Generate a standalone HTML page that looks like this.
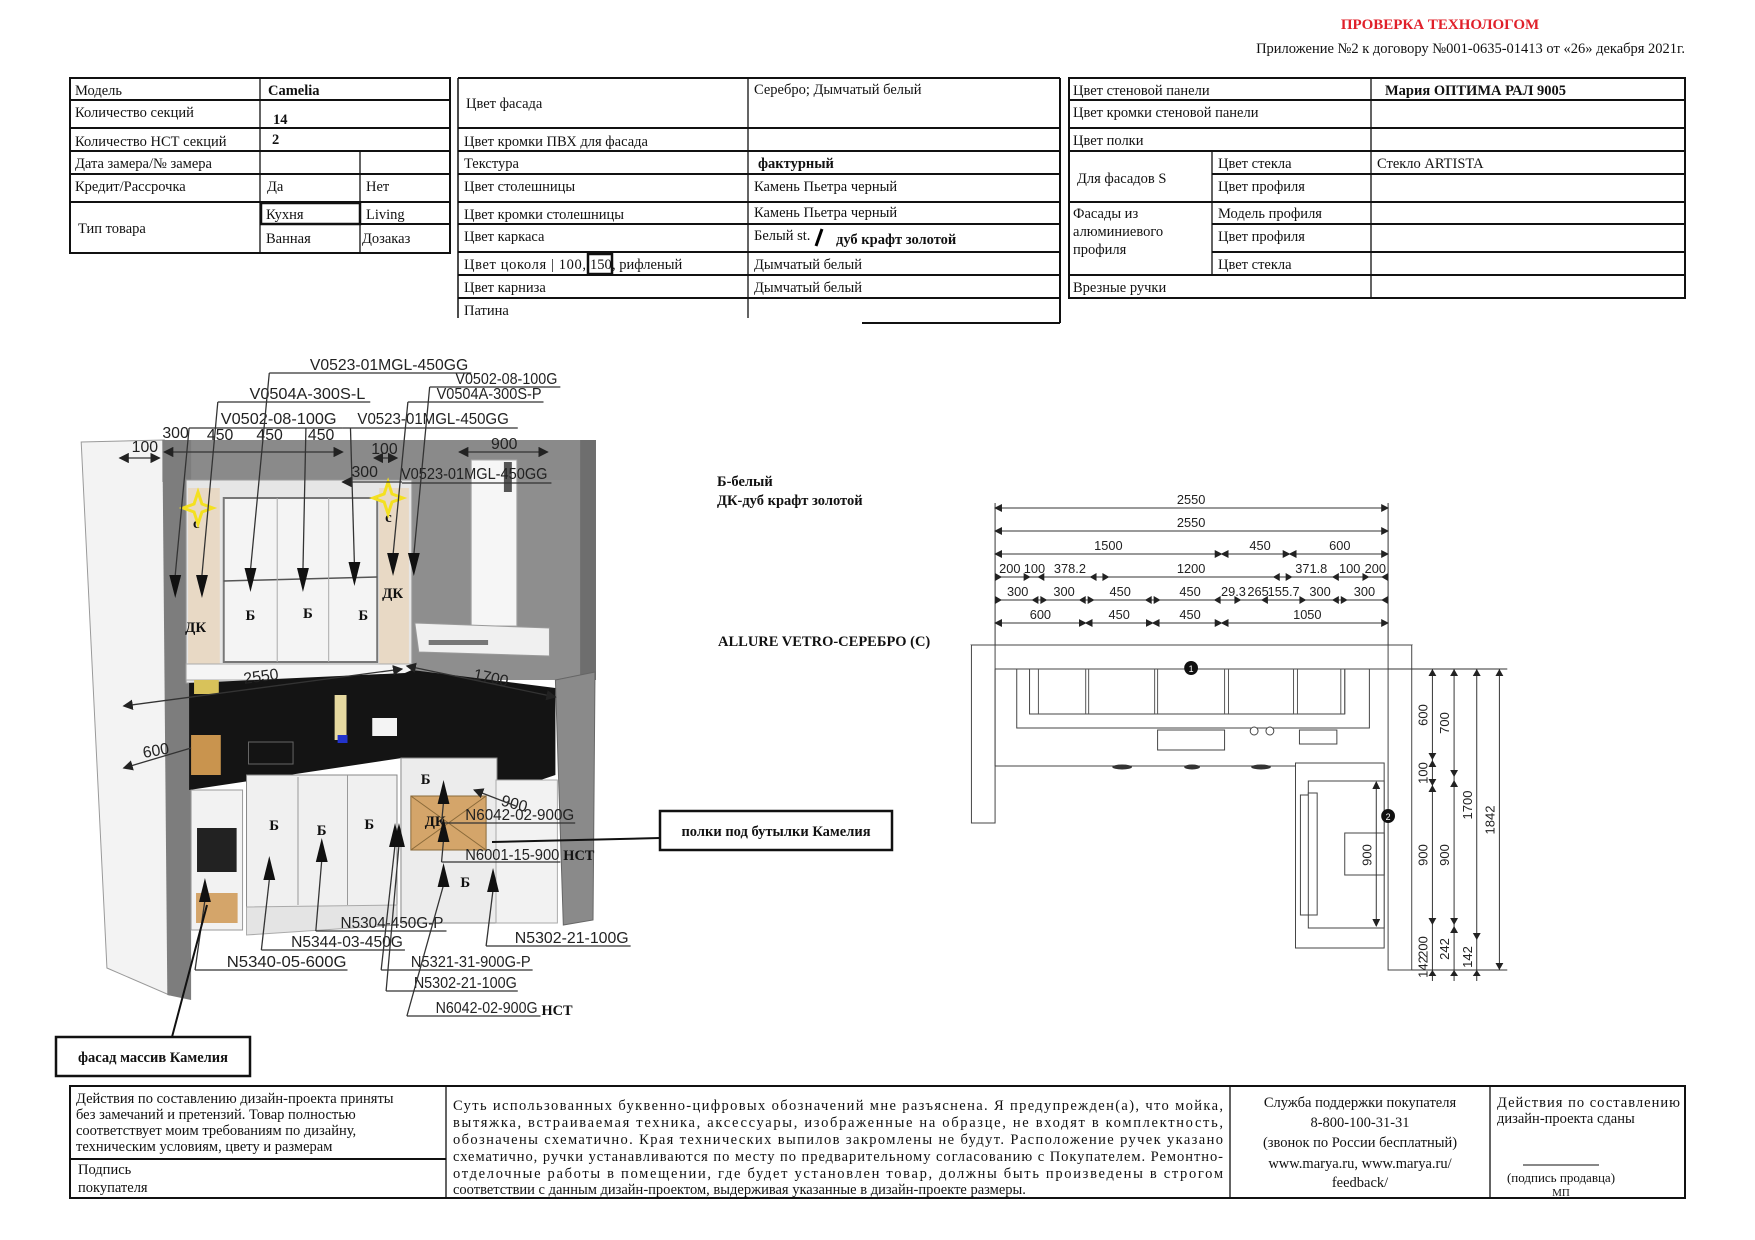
<!DOCTYPE html>
<html><head><meta charset="utf-8"><style>
html,body{margin:0;padding:0;background:#fff;}
svg{display:block}
.t{font-family:"Liberation Serif",serif;font-size:14.5px;fill:#111}
.b{font-weight:bold}
.s{font-family:"Liberation Sans",sans-serif;fill:#222}
.d{font-family:"Liberation Sans",sans-serif;font-size:13px;fill:#222}
</style></head><body>
<svg width="1755" height="1240" viewBox="0 0 1755 1240" xmlns="http://www.w3.org/2000/svg">
<defs>
<marker id="ar" markerWidth="8" markerHeight="8" refX="7" refY="4" orient="auto"><path d="M0,0 L8,4 L0,8 z" fill="#222"/></marker>
<marker id="al" markerWidth="8" markerHeight="8" refX="1" refY="4" orient="auto"><path d="M8,0 L0,4 L8,8 z" fill="#222"/></marker>
</defs>
<rect width="1755" height="1240" fill="#fff"/>
<text x="1440" y="29" text-anchor="middle" font-family="Liberation Serif,serif" font-size="15" font-weight="bold" fill="#e0202a">ПРОВЕРКА ТЕХНОЛОГОМ</text>
<text x="1685" y="53" text-anchor="end" class="t" font-size="14">Приложение №2 к договору №001-0635-01413 от «26» декабря 2021г.</text>

<!-- LEFT TABLE -->
<g stroke="#111" fill="none">
<rect x="70" y="78" width="380" height="175" stroke-width="2"/>
<g stroke-width="2">
<line x1="70" y1="100" x2="450" y2="100"/><line x1="70" y1="128" x2="450" y2="128"/>
<line x1="70" y1="151" x2="450" y2="151"/><line x1="70" y1="174" x2="450" y2="174"/>
<line x1="70" y1="202" x2="450" y2="202"/><line x1="260" y1="224" x2="450" y2="224"/>
</g>
<line x1="260" y1="78" x2="260" y2="253" stroke-width="1.3"/>
<line x1="360" y1="151" x2="360" y2="253" stroke-width="1.3"/>
<rect x="261" y="203" width="99" height="21" stroke-width="2.5"/>
</g>
<text class="t" x="75" y="95">Модель</text><text class="t b" x="268" y="95">Camelia</text>
<text class="t" x="75" y="117">Количество секций</text><text class="t b" x="273" y="124">14</text>
<text class="t" x="75" y="146">Количество НСТ секций</text><text class="t b" x="272" y="144">2</text>
<text class="t" x="75" y="168">Дата замера/№ замера</text>
<text class="t" x="75" y="191">Кредит/Рассрочка</text><text class="t" x="267" y="191">Да</text><text class="t" x="366" y="191">Нет</text>
<text class="t" x="78" y="233">Тип товара</text><text class="t" x="266" y="219">Кухня</text><text class="t" x="366" y="219">Living</text>
<text class="t" x="266" y="243">Ванная</text><text class="t" x="362" y="243">Дозаказ</text>

<!-- MIDDLE TABLE -->
<g stroke="#111" fill="none">
<line x1="458" y1="78" x2="1060" y2="78" stroke-width="2"/>
<line x1="458" y1="78" x2="458" y2="318" stroke-width="1.5"/>
<line x1="1060" y1="78" x2="1060" y2="323" stroke-width="2"/>
<line x1="748" y1="78" x2="748" y2="318" stroke-width="1.3"/>
<g stroke-width="2">
<line x1="458" y1="128" x2="1060" y2="128"/><line x1="458" y1="151" x2="1060" y2="151"/>
<line x1="458" y1="174" x2="1060" y2="174"/><line x1="458" y1="202" x2="1060" y2="202"/>
<line x1="458" y1="224" x2="1060" y2="224"/><line x1="458" y1="252" x2="1060" y2="252"/>
<line x1="458" y1="275" x2="1060" y2="275"/><line x1="458" y1="298" x2="1060" y2="298"/>
<line x1="862" y1="323" x2="1060" y2="323"/>
</g>
</g>
<text class="t" x="466" y="108">Цвет фасада</text><text class="t" x="754" y="94">Серебро; Дымчатый белый</text>
<text class="t" x="464" y="146">Цвет кромки ПВХ для фасада</text>
<text class="t" x="464" y="168">Текстура</text><text class="t b" x="758" y="168">фактурный</text>
<text class="t" x="464" y="191">Цвет столешницы</text><text class="t" x="754" y="191">Камень Пьетра черный</text>
<text class="t" x="464" y="219">Цвет кромки столешницы</text><text class="t" x="754" y="217">Камень Пьетра черный</text>
<text class="t" x="464" y="241">Цвет каркаса</text><text class="t" x="754" y="240">Белый st.</text>
<line x1="816" y1="246" x2="822" y2="229" stroke="#000" stroke-width="3"/>
<text class="t b" x="836" y="244">дуб крафт золотой</text>
<text class="t" x="464" y="269" textLength="122" lengthAdjust="spacing">Цвет цоколя | 100,</text>
<text class="t" x="590" y="269">150</text>
<text class="t" x="612" y="269">, рифленый</text>
<rect x="588" y="254" width="24" height="20" fill="none" stroke="#111" stroke-width="2.5"/>
<text class="t" x="754" y="269">Дымчатый белый</text>
<text class="t" x="464" y="292">Цвет карниза</text><text class="t" x="754" y="292">Дымчатый белый</text>
<text class="t" x="464" y="315">Патина</text>

<!-- RIGHT TABLE -->
<g stroke="#111" fill="none">
<rect x="1069" y="78" width="616" height="220" stroke-width="2"/>
<g stroke-width="2">
<line x1="1069" y1="100" x2="1685" y2="100"/><line x1="1069" y1="128" x2="1685" y2="128"/>
<line x1="1069" y1="151" x2="1685" y2="151"/><line x1="1212" y1="174" x2="1685" y2="174"/>
<line x1="1069" y1="202" x2="1685" y2="202"/><line x1="1212" y1="224" x2="1685" y2="224"/>
<line x1="1212" y1="252" x2="1685" y2="252"/><line x1="1069" y1="275" x2="1685" y2="275"/>
</g>
<line x1="1371" y1="78" x2="1371" y2="298" stroke-width="1.3"/>
<line x1="1212" y1="151" x2="1212" y2="275" stroke-width="1.3"/>
</g>
<text class="t" x="1073" y="95">Цвет стеновой панели</text><text class="t b" x="1385" y="95">Мария ОПТИМА РАЛ 9005</text>
<text class="t" x="1073" y="117">Цвет кромки стеновой панели</text>
<text class="t" x="1073" y="145">Цвет полки</text>
<text class="t" x="1077" y="183">Для фасадов S</text>
<text class="t" x="1218" y="168">Цвет стекла</text><text class="t" x="1377" y="168">Стекло ARTISTA</text>
<text class="t" x="1218" y="191">Цвет профиля</text>
<text class="t" x="1073" y="218">Фасады из</text><text class="t" x="1073" y="236">алюминиевого</text><text class="t" x="1073" y="254">профиля</text>
<text class="t" x="1218" y="218">Модель профиля</text><text class="t" x="1218" y="241">Цвет профиля</text><text class="t" x="1218" y="269">Цвет стекла</text>
<text class="t" x="1073" y="292">Врезные ручки</text>

<text class="t b" x="717" y="486">Б-белый</text>
<text class="t b" x="717" y="505">ДК-дуб крафт золотой</text>
<text class="t b" x="718" y="646">ALLURE VETRO-СЕРЕБРО (С)</text>

<!-- KITCHEN 3D -->
<g transform="translate(1,0) scale(0.99,1)">
<g>
<polygon points="81,442 165,440 170,995 107,968" fill="#f3f3f3" stroke="#999"/>
<rect x="163" y="440" width="437" height="42" fill="#8a8a8a"/>
<polygon points="163,440 192,440 192,1000 168,995" fill="#7d7d7d"/>
<rect x="415" y="480" width="172" height="200" fill="#8e8e8e"/>
<rect x="585" y="440" width="16" height="240" fill="#6e6e6e"/>
<polygon points="560,680 600,672 598,920 568,925" fill="#8a8a8a" stroke="#666"/>
<rect x="187" y="480" width="228" height="203" fill="#e6e6e6" stroke="#999"/>
<rect x="189" y="488" width="32" height="190" fill="#e8d9c5"/>
<rect x="382" y="488" width="30" height="180" fill="#e8d9c5"/>
<rect x="225" y="498" width="155" height="164" fill="#f4f4f4" stroke="#777" stroke-width="2"/>
<line x1="225" y1="581" x2="380" y2="577" stroke="#555" stroke-width="1.5"/>
<line x1="279" y1="498" x2="279" y2="662" stroke="#aaa"/><line x1="331" y1="498" x2="331" y2="662" stroke="#aaa"/>
<rect x="187" y="664" width="228" height="16" fill="#f5f5f5" stroke="#aaa"/>
<rect x="475" y="460" width="46" height="166" fill="#f6f6f6" stroke="#aaa"/>
<rect x="508" y="462" width="8" height="30" fill="#555"/>
<polygon points="418,623 554,628 554,656 422,652" fill="#f0f0f0" stroke="#999"/>
<rect x="432" y="640" width="60" height="5" fill="#777"/>
<polygon points="190,683 408,673 415,670 560,688 560,775 515,790 405,758 190,790" fill="#141414"/>
<rect x="195" y="680" width="25" height="14" fill="#d8c25a"/>
<rect x="250" y="742" width="45" height="22" fill="none" stroke="#666"/>
<rect x="337" y="695" width="12" height="45" fill="#e6d9a0"/>
<rect x="340" y="735" width="10" height="8" fill="#2233cc"/>
<rect x="375" y="718" width="25" height="18" fill="#f4f4f4"/>
<rect x="192" y="735" width="30" height="40" fill="#c9944e"/>
<rect x="192" y="790" width="52" height="140" fill="#f2f2f2" stroke="#999"/>
<rect x="198" y="828" width="40" height="44" fill="#222"/>
<rect x="197" y="893" width="42" height="30" fill="#d4a56a"/>
<rect x="248" y="775" width="152" height="132" fill="#f0f0f0" stroke="#888"/>
<line x1="300" y1="777" x2="300" y2="905" stroke="#999"/><line x1="350" y1="775" x2="350" y2="905" stroke="#999"/>
<polygon points="248,907 400,905 400,925 248,935" fill="#e4e4e4" stroke="#aaa"/>
<rect x="404" y="758" width="97" height="165" fill="#ececec" stroke="#888"/>
<rect x="414" y="796" width="76" height="54" fill="#d4a56a" stroke="#8a6a3a"/>
<line x1="414" y1="796" x2="490" y2="850" stroke="#8a6a3a"/><line x1="490" y1="796" x2="414" y2="850" stroke="#8a6a3a"/>
<rect x="500" y="780" width="62" height="143" fill="#f2f2f2" stroke="#aaa"/>
</g>
<g font-family="Liberation Serif,serif" font-weight="bold" font-size="15" fill="#111">
<text x="247" y="620">Б</text><text x="305" y="618">Б</text><text x="361" y="620">Б</text>
<text x="186" y="632">ДК</text><text x="385" y="598">ДК</text>
<text x="194" y="528">с</text><text x="388" y="522">с</text>
<text x="271" y="830">Б</text><text x="319" y="835">Б</text><text x="367" y="829">Б</text>
<text x="424" y="784">Б</text><text x="428" y="826">ДК</text><text x="464" y="887">Б</text>
</g>
<g fill="none" stroke="#f4e020" stroke-width="3">
<path d="M199,492 L203,504 L214,508 L203,512 L199,524 L195,512 L184,508 L195,504 Z"/>
<path d="M391,482 L395,494 L406,498 L395,502 L391,514 L387,502 L376,498 L387,494 Z"/>
</g>
<g class="s" font-size="16">
<text x="312" y="370" textLength="160" lengthAdjust="spacingAndGlyphs">V0523-01MGL-450GG</text>
<text x="459" y="384" textLength="103" lengthAdjust="spacingAndGlyphs">V0502-08-100G</text>
<text x="251" y="399" textLength="117" lengthAdjust="spacingAndGlyphs">V0504A-300S-L</text>
<text x="440" y="399" textLength="106" lengthAdjust="spacingAndGlyphs">V0504A-300S-P</text>
<text x="222" y="424" textLength="117" lengthAdjust="spacingAndGlyphs">V0502-08-100G</text>
<text x="360" y="424" textLength="153" lengthAdjust="spacingAndGlyphs">V0523-01MGL-450GG</text>
<text x="404" y="479" textLength="148" lengthAdjust="spacingAndGlyphs">V0523-01MGL-450GG</text>
<text x="163" y="438">300</text><text x="208" y="440">450</text><text x="258" y="440">450</text><text x="310" y="440">450</text>
<text x="132" y="452">100</text><text x="374" y="454">100</text><text x="495" y="449">900</text><text x="354" y="477">300</text>
<text x="245" y="682" transform="rotate(-8 260 678)">2550</text><text x="477" y="682" transform="rotate(12 490 678)">1700</text>
<text x="143" y="756" transform="rotate(-10 155 750)">600</text>
</g>
<g stroke="#333" stroke-width="1.3" fill="none">
<line x1="271" y1="373" x2="475" y2="373"/><line x1="433" y1="387" x2="565" y2="387"/>
<line x1="219" y1="402" x2="373" y2="402"/><line x1="411" y1="402" x2="548" y2="402"/>
<line x1="190" y1="428" x2="345" y2="428"/><line x1="345" y1="428" x2="522" y2="428"/>
<line x1="405" y1="483" x2="556" y2="483"/>
<line x1="190" y1="428" x2="176" y2="575"/><line x1="219" y1="402" x2="203" y2="575"/>
<line x1="271" y1="373" x2="252" y2="570"/><line x1="308" y1="428" x2="305" y2="570"/>
<line x1="353" y1="428" x2="357" y2="565"/><line x1="411" y1="402" x2="396" y2="555"/>
<line x1="433" y1="387" x2="417" y2="555"/>
<line x1="165" y1="452" x2="345" y2="452" marker-start="url(#al)" marker-end="url(#ar)"/>
<line x1="120" y1="458" x2="160" y2="458" marker-start="url(#al)" marker-end="url(#ar)"/>
<line x1="377" y1="458" x2="400" y2="458" marker-start="url(#al)" marker-end="url(#ar)"/>
<line x1="463" y1="452" x2="552" y2="452" marker-start="url(#al)" marker-end="url(#ar)"/>
<line x1="345" y1="482" x2="405" y2="482" marker-start="url(#al)"/>
<line x1="124" y1="706" x2="405" y2="669" marker-start="url(#al)" marker-end="url(#ar)"/>
<line x1="410" y1="666" x2="560" y2="697" marker-start="url(#al)" marker-end="url(#ar)"/>
<line x1="124" y1="768" x2="192" y2="748" marker-start="url(#al)"/>
</g>
<g fill="#111">
<polygon points="170,575 182,575 176,598"/><polygon points="197,575 209,575 203,598"/>
<polygon points="246,568 258,568 252,592"/><polygon points="299,568 311,568 305,592"/>
<polygon points="351,562 363,562 357,586"/><polygon points="390,553 402,553 396,576"/>
<polygon points="411,553 423,553 417,576"/>
</g>
<g class="s" font-size="16">
<text x="469" y="820" textLength="110" lengthAdjust="spacingAndGlyphs">N6042-02-900G</text>
<text x="469" y="860" textLength="95" lengthAdjust="spacingAndGlyphs">N6001-15-900</text>
<text x="343" y="928" textLength="104" lengthAdjust="spacingAndGlyphs">N5304-450G-P</text>
<text x="519" y="943" textLength="115" lengthAdjust="spacingAndGlyphs">N5302-21-100G</text>
<text x="293" y="947" textLength="113" lengthAdjust="spacingAndGlyphs">N5344-03-450G</text>
<text x="228" y="967" textLength="121" lengthAdjust="spacingAndGlyphs">N5340-05-600G</text>
<text x="414" y="967" textLength="121" lengthAdjust="spacingAndGlyphs">N5321-31-900G-P</text>
<text x="417" y="988" textLength="104" lengthAdjust="spacingAndGlyphs">N5302-21-100G</text>
<text x="439" y="1013" textLength="103" lengthAdjust="spacingAndGlyphs">N6042-02-900G</text>
<text x="505" y="808" transform="rotate(15 515 804)">900</text>
</g>
<text class="t b" x="568" y="860">НСТ</text>
<text class="t b" x="546" y="1015">НСТ</text>
<g stroke="#333" stroke-width="1.3" fill="none">
<line x1="445" y1="823" x2="580" y2="823"/><line x1="445" y1="862" x2="565" y2="862"/>
<line x1="318" y1="931" x2="450" y2="931"/><line x1="490" y1="946" x2="636" y2="946"/>
<line x1="263" y1="950" x2="408" y2="950"/><line x1="196" y1="970" x2="350" y2="970"/>
<line x1="384" y1="970" x2="537" y2="970"/><line x1="389" y1="991" x2="522" y2="991"/>
<line x1="410" y1="1016" x2="545" y2="1016"/>
<line x1="196" y1="970" x2="206" y2="900"/><line x1="263" y1="950" x2="271" y2="880"/>
<line x1="318" y1="931" x2="324" y2="860"/><line x1="384" y1="970" x2="398" y2="845"/>
<line x1="389" y1="991" x2="402" y2="845"/><line x1="410" y1="1016" x2="447" y2="885"/>
<line x1="490" y1="946" x2="497" y2="890"/><line x1="445" y1="862" x2="447" y2="840"/>
<line x1="445" y1="823" x2="447" y2="802"/>
<line x1="478" y1="790" x2="520" y2="806" marker-start="url(#al)"/>
</g>
<g fill="#111">
<polygon points="200,902 212,902 206,878"/><polygon points="265,880 277,880 271,856"/>
<polygon points="318,862 330,862 324,838"/><polygon points="392,847 404,847 398,823"/>
<polygon points="396,847 408,847 402,823"/><polygon points="441,887 453,887 447,863"/>
<polygon points="491,892 503,892 497,868"/><polygon points="441,842 453,842 447,818"/>
<polygon points="441,804 453,804 447,780"/>
</g>
</g>
<rect x="660" y="811" width="232" height="39" fill="#fff" stroke="#111" stroke-width="2.5"/>
<text class="t b" x="776" y="836" text-anchor="middle">полки под бутылки Камелия</text>
<line x1="660" y1="838" x2="492" y2="842" stroke="#111" stroke-width="2"/>
<rect x="56" y="1037" width="194" height="39" fill="#fff" stroke="#111" stroke-width="2.5"/>
<text class="t b" x="153" y="1062" text-anchor="middle">фасад массив Камелия</text>
<line x1="172" y1="1037" x2="207" y2="905" stroke="#111" stroke-width="2"/>

<!-- PLAN -->
<g transform="translate(15,3) scale(0.985,1)">
<g stroke="#333" stroke-width="1" fill="none">
<line x1="995" y1="505" x2="1394" y2="505" marker-start="url(#al)" marker-end="url(#ar)"/>
<line x1="995" y1="528" x2="1394" y2="528" marker-start="url(#al)" marker-end="url(#ar)"/>
<line x1="995" y1="551" x2="1225" y2="551" marker-start="url(#al)" marker-end="url(#ar)"/>
<line x1="1225" y1="551" x2="1294" y2="551" marker-start="url(#al)" marker-end="url(#ar)"/>
<line x1="1294" y1="551" x2="1394" y2="551" marker-start="url(#al)" marker-end="url(#ar)"/>
<line x1="995" y1="574" x2="1394" y2="574"/>
<line x1="995" y1="597" x2="1394" y2="597"/>
<line x1="995" y1="620" x2="1087" y2="620" marker-start="url(#al)" marker-end="url(#ar)"/>
<line x1="1087" y1="620" x2="1155" y2="620" marker-start="url(#al)" marker-end="url(#ar)"/>
<line x1="1155" y1="620" x2="1225" y2="620" marker-start="url(#al)" marker-end="url(#ar)"/>
<line x1="1225" y1="620" x2="1394" y2="620" marker-start="url(#al)" marker-end="url(#ar)"/>
<line x1="995" y1="500" x2="995" y2="666"/><line x1="1394" y1="500" x2="1394" y2="666"/>
</g>
<g fill="#222">
<polygon points="1024,570 1024,578 1031,574"/><polygon points="1045,570 1045,578 1038,574"/>
<polygon points="1098,570 1098,578 1091,574"/><polygon points="1104,570 1104,578 1111,574"/>
<polygon points="1284,570 1284,578 1277,574"/><polygon points="1290,570 1290,578 1297,574"/>
<polygon points="1344,570 1344,578 1337,574"/><polygon points="1368,570 1368,578 1375,574"/>
<polygon points="995,570 995,578 1002,574"/><polygon points="1394,570 1394,578 1387,574"/>
<polygon points="995,593 995,601 1002,597"/><polygon points="1394,593 1394,601 1387,597"/>
<polygon points="1039,593 1039,601 1032,597"/><polygon points="1041,593 1041,601 1048,597"/>
<polygon points="1087,593 1087,601 1080,597"/><polygon points="1089,593 1089,601 1096,597"/>
<polygon points="1154,593 1154,601 1147,597"/><polygon points="1156,593 1156,601 1163,597"/>
<polygon points="1224,593 1224,601 1217,597"/><polygon points="1238,593 1238,601 1245,597"/>
<polygon points="1272,593 1272,601 1265,597"/><polygon points="1304,593 1304,601 1311,597"/>
<polygon points="1344,593 1344,601 1337,597"/><polygon points="1346,593 1346,601 1353,597"/>
</g>
<g class="d" text-anchor="middle">
<text x="1194" y="501">2550</text><text x="1194" y="524">2550</text>
<text x="1110" y="547">1500</text><text x="1264" y="547">450</text><text x="1345" y="547">600</text>
<text x="1010" y="570">200</text><text x="1035" y="570">100</text><text x="1071" y="570">378.2</text><text x="1194" y="570">1200</text><text x="1316" y="570">371.8</text><text x="1355" y="570">100</text><text x="1381" y="570">200</text>
<text x="1018" y="593">300</text><text x="1065" y="593">300</text><text x="1122" y="593">450</text><text x="1193" y="593">450</text><text x="1237" y="593">29.3</text><text x="1262" y="593">265</text><text x="1288" y="593">155.7</text><text x="1325" y="593">300</text><text x="1370" y="593">300</text>
<text x="1041" y="616">600</text><text x="1121" y="616">450</text><text x="1193" y="616">450</text><text x="1312" y="616">1050</text>
</g>
<g stroke="#444" stroke-width="1" fill="#fff">
<polygon points="971,642 1418,642 1394,666 995,666"/>
<rect x="971" y="642" width="24" height="178"/>
<rect x="1394" y="642" width="24" height="325"/>
<line x1="995" y1="666" x2="995" y2="763"/>
<rect x="1017" y="666" width="358" height="59"/>
<rect x="1030" y="666" width="320" height="45"/>
<line x1="995" y1="763" x2="1300" y2="763"/>
<rect x="1160" y="727" width="68" height="20"/>
<circle cx="1258" cy="728" r="4"/><circle cx="1274" cy="728" r="4"/>
<rect x="1304" y="727" width="38" height="14"/>
<rect x="1300" y="760" width="90" height="185"/>
<rect x="1313" y="778" width="77" height="147"/>
<rect x="1350" y="830" width="40" height="42"/>
<rect x="1305" y="792" width="10" height="120"/><rect x="1313" y="790" width="9" height="122"/>
</g>
<g stroke="#555" stroke-width="1">
<line x1="1039" y1="666" x2="1039" y2="711"/><line x1="1087" y1="666" x2="1087" y2="711"/><line x1="1090" y1="666" x2="1090" y2="711"/>
<line x1="1157" y1="666" x2="1157" y2="711"/><line x1="1160" y1="666" x2="1160" y2="711"/>
<line x1="1228" y1="666" x2="1228" y2="711"/><line x1="1232" y1="666" x2="1232" y2="711"/>
<line x1="1298" y1="666" x2="1298" y2="711"/><line x1="1302" y1="666" x2="1302" y2="711"/>
<line x1="1346" y1="666" x2="1346" y2="711"/><line x1="1350" y1="666" x2="1350" y2="711"/>
</g>
<g fill="#333"><ellipse cx="1124" cy="764" rx="10" ry="2.5"/><ellipse cx="1195" cy="764" rx="8" ry="2.5"/><ellipse cx="1265" cy="764" rx="10" ry="2.5"/></g>
<circle cx="1194" cy="665" r="7" fill="#111"/><text x="1194" y="669" text-anchor="middle" font-family="Liberation Sans" font-size="9" fill="#fff">1</text>
<circle cx="1394" cy="813" r="7" fill="#111"/><text x="1394" y="817" text-anchor="middle" font-family="Liberation Sans" font-size="9" fill="#fff">2</text>
<g stroke="#333" stroke-width="1" fill="none">
<line x1="1394" y1="666" x2="1515" y2="666"/><line x1="1418" y1="967" x2="1515" y2="967"/>
<line x1="1382" y1="779" x2="1382" y2="923" marker-start="url(#al)" marker-end="url(#ar)"/>
<line x1="1439" y1="666" x2="1439" y2="978"/><line x1="1461" y1="666" x2="1461" y2="978"/>
<line x1="1484" y1="666" x2="1484" y2="978"/><line x1="1507" y1="666" x2="1507" y2="967"/>
</g>
<g fill="#222">
<polygon points="1435,673 1443,673 1439,666"/><polygon points="1435,750 1443,750 1439,757"/><polygon points="1435,764 1443,764 1439,757"/><polygon points="1435,776 1443,776 1439,783"/><polygon points="1435,789 1443,789 1439,782"/><polygon points="1435,915 1443,915 1439,922"/><polygon points="1435,973 1443,973 1439,967"/>
<polygon points="1457,673 1465,673 1461,666"/><polygon points="1457,767 1465,767 1461,774"/><polygon points="1457,784 1465,784 1461,777"/><polygon points="1457,915 1465,915 1461,922"/><polygon points="1457,930 1465,930 1461,923"/><polygon points="1457,973 1465,973 1461,967"/>
<polygon points="1480,673 1488,673 1484,666"/><polygon points="1480,930 1488,930 1484,937"/><polygon points="1480,973 1488,973 1484,967"/>
<polygon points="1503,673 1511,673 1507,666"/><polygon points="1503,960 1511,960 1507,967"/>
</g>
<g class="d" text-anchor="middle">
<text transform="translate(1434,712) rotate(-90)">600</text>
<text transform="translate(1434,770) rotate(-90)">100</text>
<text transform="translate(1434,852) rotate(-90)">900</text>
<text transform="translate(1434,944) rotate(-90)">200</text>
<text transform="translate(1434,964) rotate(-90)">142</text>
<text transform="translate(1456,720) rotate(-90)">700</text>
<text transform="translate(1456,852) rotate(-90)">900</text>
<text transform="translate(1456,946) rotate(-90)">242</text>
<text transform="translate(1479,802) rotate(-90)">1700</text>
<text transform="translate(1479,954) rotate(-90)">142</text>
<text transform="translate(1502,817) rotate(-90)">1842</text>
<text transform="translate(1377,852) rotate(-90)">900</text>
</g>
</g>

<!-- BOTTOM TABLE -->
<g stroke="#111" fill="none">
<rect x="70" y="1086" width="1615" height="112" stroke-width="2"/>
<line x1="446" y1="1086" x2="446" y2="1198" stroke-width="1.3"/>
<line x1="1230" y1="1086" x2="1230" y2="1198" stroke-width="1.3"/>
<line x1="1490" y1="1086" x2="1490" y2="1198" stroke-width="1.3"/>
<line x1="70" y1="1159" x2="446" y2="1159" stroke-width="2"/>
<line x1="1523" y1="1165" x2="1599" y2="1165" stroke-width="1"/>
</g>
<g class="t" font-size="13">
<text x="76" y="1103">Действия по составлению дизайн-проекта приняты</text>
<text x="76" y="1119">без замечаний и претензий. Товар полностью</text>
<text x="76" y="1135">соответствует моим требованиям по дизайну,</text>
<text x="76" y="1151">техническим условиям, цвету и размерам</text>
<text x="78" y="1174">Подпись</text><text x="78" y="1192">покупателя</text>
</g>
<g class="t" font-size="13.5">
<text x="453" y="1110" textLength="770" lengthAdjust="spacing">Суть использованных буквенно-цифровых обозначений мне разъяснена. Я предупрежден(а), что мойка,</text>
<text x="453" y="1127" textLength="770" lengthAdjust="spacing">вытяжка, встраиваемая техника, аксессуары, изображенные на образце, не входят в комплектность,</text>
<text x="453" y="1144" textLength="770" lengthAdjust="spacing">обозначены схематично. Края технических выпилов закромлены не будут. Расположение ручек указано</text>
<text x="453" y="1161" textLength="770" lengthAdjust="spacing">схематично, ручки устанавливаются по месту по предварительному согласованию с Покупателем. Ремонтно-</text>
<text x="453" y="1178" textLength="770" lengthAdjust="spacing">отделочные работы в помещении, где будет установлен товар, должны быть произведены в строгом</text>
<text x="453" y="1194">соответствии с данным дизайн-проектом, выдерживая указанные в дизайн-проекте размеры.</text>
</g>
<g class="t" font-size="14" text-anchor="middle">
<text x="1360" y="1107">Служба поддержки покупателя</text>
<text x="1360" y="1127">8-800-100-31-31</text>
<text x="1360" y="1147">(звонок по России бесплатный)</text>
<text x="1360" y="1168">www.marya.ru, www.marya.ru/</text>
<text x="1360" y="1187">feedback/</text>
<text x="1561" y="1182" font-size="13">(подпись продавца)</text>
<text x="1561" y="1196" font-size="11">МП</text>
</g>
<text class="t" font-size="13.5" x="1497" y="1107" textLength="183" lengthAdjust="spacing">Действия по составлению</text>
<text class="t" font-size="13.5" x="1497" y="1123">дизайн-проекта сданы</text>
</svg>
</body></html>
